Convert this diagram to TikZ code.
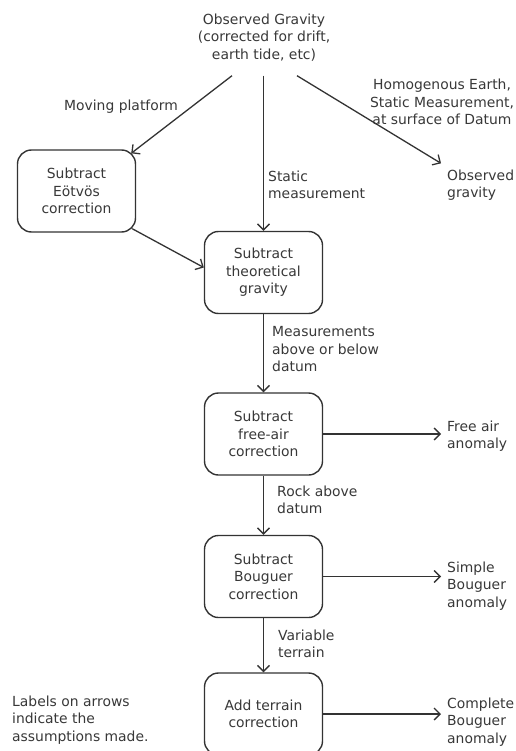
\documentclass[tikz,border=0pt]{standalone}
\usepackage{fontspec}
\setmainfont{DejaVu Sans}
\usetikzlibrary{arrows.meta,calc}
\definecolor{ink}{HTML}{333333}
\definecolor{txt}{HTML}{383838}
\begin{document}
\begin{tikzpicture}[x=1pt,y=-1pt,
  every node/.style={font=\fontsize{13.9}{17.5}\selectfont, text=txt},
  procbox/.style={draw=ink, line width=1.4pt, rounded corners=14pt,
    minimum width=118pt, minimum height=82pt, align=center, inner sep=2pt},
  lbl/.style={align=left, anchor=west, inner sep=0pt},
  outtxt/.style={align=left, anchor=west, inner sep=0pt},
  conn/.style={draw=ink, line width=1.3pt, -{Straight Barb[length=6pt,width=12pt,line width=1.3pt]}}
]
\useasboundingbox (0,0) rectangle (515,751);

% top source
\node[align=center, minimum height=76pt, inner sep=0pt] (top) at (264,37.5)
  {Observed Gravity\\(corrected for drift,\\earth tide, etc)};

% boxes
\node[procbox] (eot)  at (76.5,191)   {Subtract\\Eötvös\\correction};
\node[procbox] (theo) at (263.5,272.5) {Subtract\\theoretical\\gravity};
\node[procbox] (free) at (263.5,434)  {Subtract\\free-air\\correction};
\node[procbox] (boug) at (263.5,576.5) {Subtract\\Bouguer\\correction};
\node[procbox] (terr) at (263.5,714)  {Add terrain\\correction};

% outputs
\node[outtxt] (obs) at (447,185) {Observed\\gravity};
\node[outtxt] (fa)  at (447,436) {Free air\\anomaly};
\node[outtxt] (sba) at (447,586) {Simple\\Bouguer\\anomaly};
\node[outtxt] (cba) at (447,722) {Complete\\Bouguer\\anomaly};

% note
\node[outtxt] (note) at (12,720) {Labels on arrows\\indicate the\\assumptions made.};

% connectors
\coordinate (tl) at ($(top.south)+(-32,0)$);
\coordinate (tr) at ($(top.south)+(33,0)$);
\coordinate (eotin) at ($(eot.north east)+(-5,4)$);
\coordinate (obsin) at ($(obs.north west)+(-6,-6)$);
\coordinate (eotout) at ($(eot.south east)+(-4,-4)$);
\coordinate (theoin) at ($(theo.west)+(0,-5)$);

\draw[conn] (tl) -- (eotin);
\draw[conn] (top.south -| theo.north) -- (theo.north);
\draw[conn] (tr) -- (obsin);
\draw[conn] (eotout) -- (theoin);
\draw[conn] (theo.south) -- (free.north);
\draw[conn] (free.south) -- (boug.north);
\draw[conn] (boug.south) -- (terr.north);
\draw[conn] (free.east) -- ($(free.east -| fa.west)+(-6,0)$);
\draw[conn] (boug.east) -- ($(boug.east -| sba.west)+(-6,0)$);
\draw[conn] (terr.east) -- ($(terr.east -| cba.west)+(-6,0)$);

% arrow labels
\node[align=center, inner sep=0pt] (lmove) at (121,107) {Moving platform};
\node[align=center, inner sep=0pt] (lhom) at (442,102)
  {Homogenous Earth,\\Static Measurement,\\at surface of Datum};
\node[lbl] (lstat) at (268,185) {Static\\measurement};
\node[lbl] (lmeas) at (272,349.5) {Measurements\\above or below\\datum};
\node[lbl] (lrock) at (277,500) {Rock above\\datum};
\node[lbl] (lvar)  at (278,644) {Variable\\terrain};
\end{tikzpicture}
\end{document}
